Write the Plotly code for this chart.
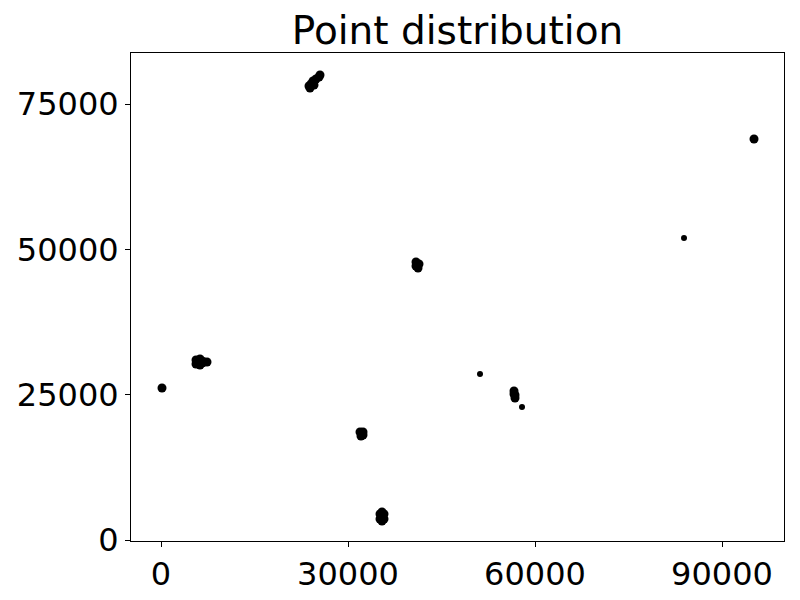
import plotly.graph_objects as go

# Dense clusters (each cluster drawn from several overlapping points)
cluster_x = [
    23904, 24065, 24386, 24867, 25348, 25508, 23744, 24546,   # top cluster
    5775, 6257, 6257, 6898, 7380, 5615, 5615, 6578, 6578,     # left cluster
    40910, 41231, 40910, 41391,                               # middle cluster
    56632, 56792, 56792, 56632,                               # right-middle cluster
    31926, 32407, 32086, 32407,                               # lower cluster
    35134, 35776, 35134, 35776, 35455, 35455,                 # bottom cluster
]
cluster_y = [
    77758, 78446, 78962, 79306, 79650, 79994, 78102, 78274,
    30621, 31137, 30105, 30621, 30621, 30965, 30277, 30793, 30449,
    47824, 46792, 47136, 47480,
    25633, 24944, 24428, 25116,
    18579, 18063, 17891, 18579,
    4473, 4473, 3613, 3613, 4817, 3269,
]

# Larger isolated points
single_x = [160, 95135]
single_y = [26149, 68984]

# Small isolated points
outlier_x = [51177, 83905, 57915]
outlier_y = [28557, 51953, 22880]

x_ticks = [0, 30000, 60000, 90000]
y_ticks = [0, 25000, 50000, 75000]

fig = go.Figure()
fig.add_trace(go.Scatter(x=cluster_x, y=cluster_y, mode="markers",
                         marker=dict(color="black", size=9, line=dict(width=0)),
                         showlegend=False))
fig.add_trace(go.Scatter(x=single_x, y=single_y, mode="markers",
                         marker=dict(color="black", size=9, line=dict(width=0)),
                         showlegend=False))
fig.add_trace(go.Scatter(x=outlier_x, y=outlier_y, mode="markers",
                         marker=dict(color="black", size=6, line=dict(width=0)),
                         showlegend=False))

axis_common = dict(showgrid=False, zeroline=False, showline=True, mirror=True,
                   linecolor="black", linewidth=1, ticks="outside", ticklen=5,
                   tickcolor="black", tickwidth=1, automargin=False,
                   tickfont=dict(family="DejaVu Sans", size=32, color="black"))

fig.update_layout(
    width=800, height=600,
    paper_bgcolor="white", plot_bgcolor="white",
    margin=dict(l=123, r=24, t=45, b=67),
    title=dict(text="Point distribution", xref="paper", x=0.5, xanchor="center",
               y=1, yref="paper", yanchor="bottom", pad=dict(b=9),
               automargin=False,
               font=dict(family="DejaVu Sans", size=39, color="black")),
    xaxis=dict(range=[-4813, 99947], tickvals=x_ticks,
               ticktext=[str(v) for v in x_ticks], **axis_common),
    yaxis=dict(range=[-172, 83774], tickvals=y_ticks,
               ticktext=[str(v) for v in y_ticks], **axis_common),
)

fig.write_html("out.html")
